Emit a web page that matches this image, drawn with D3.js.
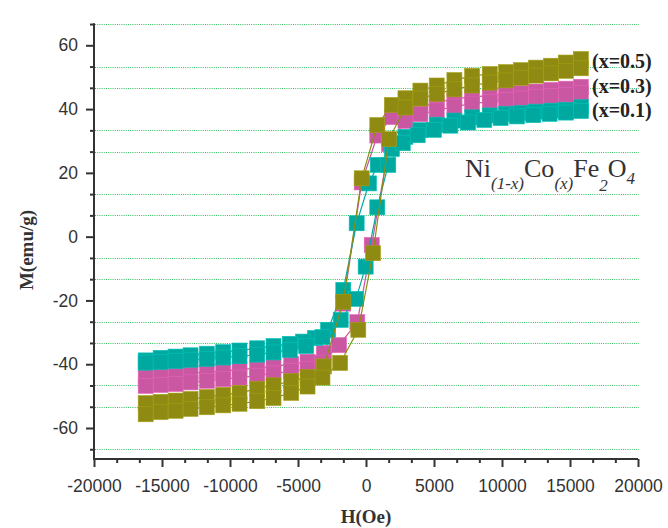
<!DOCTYPE html>
<html>
<head>
<meta charset="utf-8">
<script src="https://cdn.jsdelivr.net/npm/d3@7/dist/d3.min.js"></script>
<style>
  html, body { margin: 0; padding: 0; background: #ffffff; }
  svg { display: block; }
</style>
</head>
<body>
<svg id="chart" width="668" height="528"></svg>
<script>
// ---------------- DATA ----------------
// Each loop is listed in measurement order: descending branch then ascending branch.
const H_x01 = [15800, 14700, 13600, 12500, 11400, 10300, 9100, 7800, 6500, 5200, 4000, 2900, 1900, 860, 220, -686, -1670, -2790, -3750, -4630, -5600, -6800, -8000, -9300, -10500, -11700, -12900, -14000, -15100, -16200,
               -16200, -15100, -14000, -12900, -11700, -10500, -9300, -8000, -6800, -5600, -4400, -3200, -1860, -735, -25, 830, 1640, 2700, 3800, 5000, 6200, 7500, 8700, 9900, 11100, 12300, 13500, 14700, 15800];
const M_x01 = [40.6, 39.8, 39.5, 39.2, 38.8, 38.5, 38.0, 37.4, 36.4, 35.1, 33.4, 31.3, 27.5, 22.5, 16.7, 4.2, -16.7, -29.2, -31.8, -32.9, -33.6, -34.3, -35.0, -35.7, -36.2, -36.7, -37.2, -37.6, -38.0, -38.8,
               -39.5, -39.3, -39.0, -38.6, -38.3, -37.9, -37.5, -37.0, -36.3, -35.5, -34.3, -31.5, -26.1, -19.5, -9.4, 9.2, 22.5, 29.3, 31.8, 33.5, 34.8, 35.8, 36.6, 37.2, 37.7, 38.1, 38.5, 38.9, 39.4];

const H_x03 = [15800, 14700, 13600, 12500, 11400, 10300, 9100, 7800, 6500, 5200, 4000, 2900, 1900, 830, -316, -1670, -3100, -4300, -5500, -6800, -8000, -9300, -10500, -11700, -12900, -14000, -15100, -16200,
               -16200, -15100, -14000, -12900, -11700, -10500, -9300, -8000, -6800, -5500, -4300, -3200, -1985, -640, 420, 1700, 2900, 4000, 5200, 6500, 7800, 9100, 10300, 11400, 12500, 13600, 14700, 15800];
const M_x03 = [47.0, 46.4, 46.0, 45.5, 45.0, 44.6, 44.2, 43.8, 43.2, 42.0, 40.6, 38.5, 37.5, 31.7, 17.0, -21.0, -36.5, -39.2, -40.0, -40.7, -41.2, -41.7, -42.1, -42.5, -42.8, -43.1, -43.4, -43.6,
               -46.8, -46.5, -46.2, -45.7, -45.2, -44.7, -44.2, -43.6, -42.9, -42.2, -41.4, -39.5, -34.0, -26.8, -2.6, 29.0, 36.3, 38.4, 39.6, 40.8, 41.7, 42.3, 42.9, 43.3, 43.7, 44.1, 44.5, 45.0];

const H_x05 = [15800, 14700, 13600, 12500, 11400, 10300, 9100, 7800, 6500, 5200, 4000, 2900, 1900, 830, -316, -1670, -3100, -4300, -5500, -6800, -8000, -9300, -10500, -11700, -12900, -14000, -15100, -16200,
               -16200, -15100, -14000, -12900, -11700, -10500, -9300, -8000, -6800, -5500, -4300, -3200, -1900, -566, 515, 1690, 2900, 4000, 5200, 6500, 7800, 9100, 10300, 11400, 12500, 13600, 14700, 15800];
const M_x05 = [55.7, 54.6, 53.6, 53.0, 52.2, 51.6, 51.0, 50.4, 49.1, 47.4, 45.8, 43.4, 41.3, 35.0, 18.3, -20.4, -40.7, -44.0, -45.3, -46.6, -47.7, -49.0, -49.6, -50.3, -50.9, -51.4, -51.8, -52.2,
               -55.7, -55.0, -54.6, -54.0, -53.5, -52.9, -52.4, -51.6, -50.6, -49.0, -47.0, -44.2, -39.6, -29.2, -5.2, 30.6, 40.5, 43.3, 44.8, 46.2, 47.4, 48.3, 49.0, 49.8, 50.5, 51.2, 52.0, 52.8];

const seriesNames = ["(x=0.1)", "(x=0.3)", "(x=0.5)"];
const xTickValues = [-20000, -15000, -10000, -5000, 0, 5000, 10000, 15000, 20000];
const xTickLabels = ["-20000", "-15000", "-10000", "-5000", "0", "5000", "10000", "15000", "20000"];
const yTickValues = [-60, -40, -20, 0, 20, 40, 60];
const yTickLabels = ["-60", "-40", "-20", "0", "20", "40", "60"];
const xTitle = "H(Oe)";
const yTitle = "M(emu/g)";

// ---------------- STYLE ----------------
const colors = {"(x=0.1)": "#00a9a0", "(x=0.3)": "#c957a1", "(x=0.5)": "#8f8b12"};
const drawOrder = ["(x=0.3)", "(x=0.1)", "(x=0.5)"];
const legendY = {"(x=0.5)": 68, "(x=0.3)": 92.5, "(x=0.1)": 116.5};

const seriesData = {
  "(x=0.1)": H_x01.map((h, i) => ({h, m: M_x01[i]})),
  "(x=0.3)": H_x03.map((h, i) => ({h, m: M_x03[i]})),
  "(x=0.5)": H_x05.map((h, i) => ({h, m: M_x05[i]}))
};

const svg = d3.select("#chart");
svg.append("rect").attr("width", 668).attr("height", 528).attr("fill", "#ffffff");

const x = d3.scaleLinear().domain([-20000, 20000]).range([94, 638]);
const y = d3.scaleLinear().domain([-69.5, 66.9]).range([458.3, 23.3]);

// minor tick values (thirds between majors)
const yMinor = [];
for (let v = -80; v <= 80; v += 20) {
  [v + 20 / 3, v + 40 / 3].forEach(t => { if (t > -69.5 && t < 66.9) yMinor.push(t); });
}
const xMinor = [];
for (let v = -20000; v < 20000; v += 5000) {
  xMinor.push(v + 5000 / 3, v + 10000 / 3);
}

// dotted green grid lines at minor y ticks
svg.append("g").selectAll("line").data(yMinor).join("line")
  .attr("x1", 95).attr("x2", 639)
  .attr("y1", d => Math.round(y(d)) + 0.5).attr("y2", d => Math.round(y(d)) + 0.5)
  .attr("stroke", "#2fbf5f").attr("stroke-width", 1)
  .attr("stroke-dasharray", "1,1.2");

// series: line then markers
const line = d3.line().x(d => x(d.h)).y(d => y(d.m));
const plot = svg.append("g");
drawOrder.forEach(name => {
  const data = seriesData[name];
  const g = plot.append("g");
  g.append("path").datum(data).attr("d", line)
    .attr("fill", "none").attr("stroke", colors[name]).attr("stroke-width", 1.2);
  g.selectAll("rect").data(data).join("rect")
    .attr("x", d => x(d.h) - 7.5).attr("y", d => y(d.m) - 7.5)
    .attr("width", 15).attr("height", 15)
    .attr("fill", colors[name])
    .attr("stroke", d3.color(colors[name]).brighter(0.4)).attr("stroke-width", 0.6);
});

// axes
const axisColor = "#333333";
const yAxis = d3.axisLeft(y).tickValues(yTickValues).tickFormat((d, i) => yTickLabels[i]).tickSize(8).tickPadding(8);
const yAxisG = svg.append("g").attr("transform", "translate(94,0)").call(yAxis);
const yMinorG = svg.append("g").attr("transform", "translate(94,0)")
  .call(d3.axisLeft(y).tickValues(yMinor).tickFormat("").tickSize(4));
yMinorG.select(".domain").remove();

const xAxis = d3.axisBottom(x).tickValues(xTickValues).tickFormat((d, i) => xTickLabels[i]).tickSize(8).tickPadding(13);
const xAxisG = svg.append("g").attr("transform", "translate(0,459)").call(xAxis);
const xMinorG = svg.append("g").attr("transform", "translate(0,459)")
  .call(d3.axisBottom(x).tickValues(xMinor).tickFormat("").tickSize(4));
xMinorG.select(".domain").remove();

[yAxisG, xAxisG, yMinorG, xMinorG].forEach(g => {
  g.selectAll("line").attr("stroke", axisColor).attr("stroke-width", 2);
  g.selectAll(".domain").attr("stroke", axisColor).attr("stroke-width", 2);
  g.selectAll("text").attr("fill", "#333333")
    .style("font-family", "'Liberation Sans', Arial, sans-serif").style("font-size", "17.5px");
});
// y domain path: make it a plain vertical line
yAxisG.select(".domain").attr("d", `M0,${y(66.9)}V459`);
xAxisG.select(".domain").attr("d", `M93,0H${x(20000)}`);

// axis titles
svg.append("text")
  .attr("transform", "translate(33,250) rotate(-90)")
  .attr("text-anchor", "middle")
  .style("font-family", "'Liberation Serif', 'Times New Roman', serif")
  .style("font-weight", "bold").style("font-size", "19px").attr("fill", "#333333")
  .text(yTitle);
svg.append("text")
  .attr("x", 366).attr("y", 523).attr("text-anchor", "middle")
  .style("font-family", "'Liberation Serif', 'Times New Roman', serif")
  .style("font-weight", "bold").style("font-size", "19px").attr("fill", "#333333")
  .text(xTitle);

// legend labels
seriesNames.forEach(name => {
  svg.append("text")
    .attr("x", 592).attr("y", legendY[name])
    .style("font-family", "'Liberation Serif', 'Times New Roman', serif")
    .style("font-weight", "bold").style("font-size", "20px").attr("fill", "#222222")
    .text(name);
});

// formula annotation
const f = svg.append("text").attr("x", 465).attr("y", 177)
  .style("font-family", "'Liberation Serif', 'Times New Roman', serif")
  .style("font-size", "26px").attr("fill", "#333333");
const parts = [
  {t: "Ni", sub: false, dy: 0},
  {t: "(1-x)", sub: true, dy: 12},
  {t: "Co", sub: false, dy: -12},
  {t: "(x)", sub: true, dy: 12},
  {t: "Fe", sub: false, dy: -12},
  {t: "2", sub: true, dy: 14},
  {t: "O", sub: false, dy: -14},
  {t: "4", sub: true, dy: 7}
];
parts.forEach(p => {
  const ts = f.append("tspan").attr("dy", p.dy).text(p.t);
  if (p.sub) ts.style("font-size", "17px").style("font-style", "italic");
});
</script>
</body>
</html>
